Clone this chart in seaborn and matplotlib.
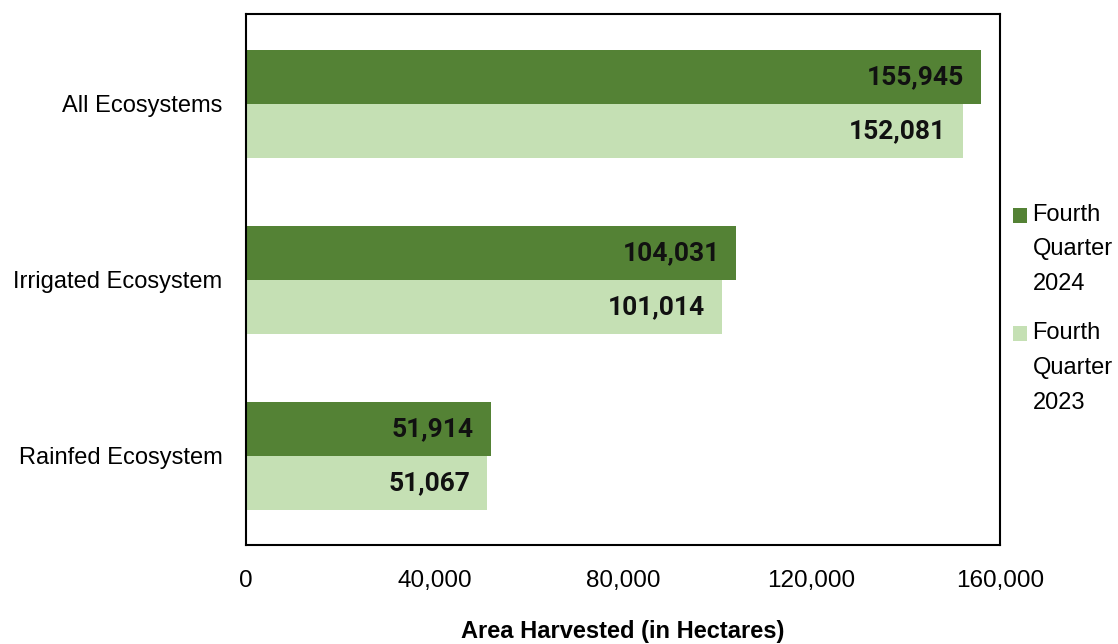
import matplotlib
matplotlib.use("Agg")
import matplotlib.pyplot as plt
import matplotlib.patches as mpatches
from matplotlib.legend_handler import HandlerPatch
import seaborn as sns
import pandas as pd

categories = ["All Ecosystems", "Irrigated Ecosystem", "Rainfed Ecosystem"]
series_names = ["Fourth\nQuarter\n2024", "Fourth\nQuarter\n2023"]
values_2024 = [155945, 104031, 51914]
values_2023 = [152081, 101014, 51067]
x_ticks = [0, 40000, 80000, 120000, 160000]
x_title = "Area Harvested (in Hectares)"
colors = ["#548235", "#C5E0B4"]

df = pd.DataFrame({
    "category": categories * 2,
    "series": [series_names[0]] * 3 + [series_names[1]] * 3,
    "value": values_2024 + values_2023,
})

sns.set_theme(style="white")
plt.rcParams["font.family"] = ["Liberation Sans", "DejaVu Sans"]
plt.rcParams["text.color"] = "black"
plt.rcParams["xtick.color"] = "black"
plt.rcParams["ytick.color"] = "black"

LEG_FS = 17
LEG_LS = 1.75


class TopAlignedPatch(HandlerPatch):
    def create_artists(self, legend, orig_handle, xdescent, ydescent,
                       width, height, fontsize, trans):
        shift = fontsize * 1.45
        p = mpatches.Rectangle((-xdescent, -ydescent + shift), width, height,
                               facecolor=orig_handle.get_facecolor(),
                               edgecolor="none", transform=trans)
        return [p]


fig = plt.figure(figsize=(11.18, 6.44), dpi=100)
ax = fig.add_axes([0.22, 0.1537, 0.6745, 0.8246])

sns.barplot(data=df, x="value", y="category", hue="series", orient="h",
            palette=colors, width=0.614, ax=ax, saturation=1, errorbar=None,
            hue_order=series_names, order=categories, linewidth=0)

ax.set_xlim(0, 160000)
ax.set_ylim(2.506, -0.511)
ax.set_xticks(x_ticks)
ax.set_xticklabels([f"{v:,}" for v in x_ticks], fontsize=17.5)
ax.tick_params(axis="x", length=0, pad=18)
ax.tick_params(axis="y", length=0, pad=17, labelsize=17)
ax.set_ylabel("")
ax.set_xlabel(x_title, fontsize=17, fontweight="bold", labelpad=20, color="black")

for sp in ax.spines.values():
    sp.set_visible(True)
    sp.set_color("black")
    sp.set_linewidth(1.5)

for container in ax.containers:
    for bar in container:
        w = bar.get_width()
        yc = bar.get_y() + bar.get_height() / 2
        ax.annotate(f"{int(round(w)):,}", xy=(w, yc), xytext=(-12, 0),
                    textcoords="offset points", ha="right", va="center",
                    fontsize=19, fontweight="bold", family="Roboto", color="#111111")

handles, labels = ax.get_legend_handles_labels()
leg = ax.legend(handles, labels, loc="center left", bbox_to_anchor=(1.004, 0.445),
                frameon=False, fontsize=LEG_FS, handlelength=0.6, handleheight=0.6,
                handletextpad=0.25, labelspacing=1.15, borderaxespad=0,
                alignment="left",
                handler_map={mpatches.Rectangle: TopAlignedPatch(),
                             mpatches.Patch: TopAlignedPatch()})
for t in leg.get_texts():
    t.set_linespacing(LEG_LS)
    t.set_color("black")
    t.set_multialignment("left")

fig.savefig("out.png", dpi=100)
